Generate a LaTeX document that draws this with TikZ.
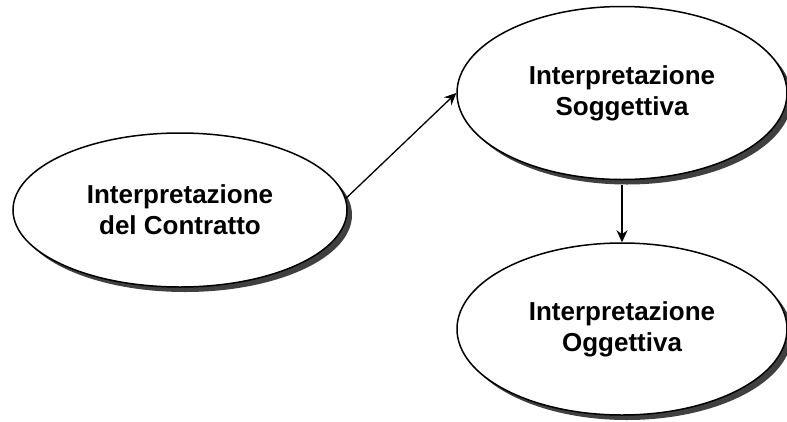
\documentclass[tikz,border=0pt]{standalone}
\usepackage{fontspec}
\setmainfont{Liberation Sans}
\usepackage{tikz}
\usetikzlibrary{positioning,arrows.meta,shapes.geometric,shadows}

\begin{document}
\begin{tikzpicture}[x=1pt, y=-1pt,
  every node/.style={font=\fontsize{26}{31}\selectfont\bfseries, text=black},
  bubble/.style={ellipse, draw=black, line width=1.5pt, fill=white, align=center,
                 inner sep=0pt, minimum width=334pt, minimum height=154pt,
                 drop shadow={shadow xshift=5pt, shadow yshift=-5pt, fill=black!75, opacity=1}},
  arrow/.style={-{Stealth[length=12pt, width=11pt, inset=4pt]}, draw=black, line width=1.3pt}]
\useasboundingbox (0,0) rectangle (787,421);
\node[bubble] (contratto) at (180,210) {Interpretazione\\del Contratto};
\node[bubble, minimum width=330pt, minimum height=173pt] (sogg) at (622,93) {Interpretazione\\Soggettiva};
\node[bubble, minimum width=330pt, minimum height=172pt] (ogg) at (622,329) {Interpretazione\\Oggettiva};
\draw[arrow] (contratto.4) -- (sogg.west);
\draw[arrow] ([yshift=-5pt]sogg.south) -- (ogg.north);
\end{tikzpicture}
\end{document}
